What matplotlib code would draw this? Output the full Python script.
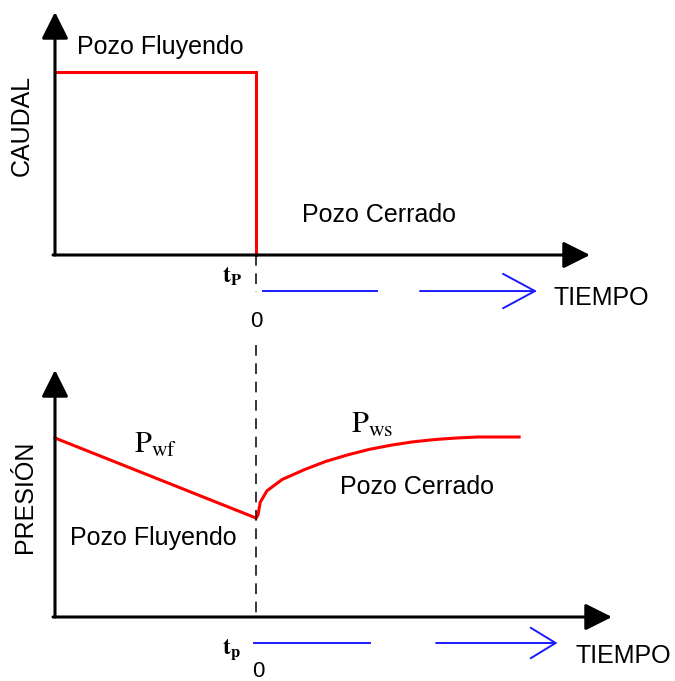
import numpy as np
import matplotlib
matplotlib.use("Agg")
import matplotlib.pyplot as plt

plt.rcParams['font.family'] = ['Liberation Sans', 'DejaVu Sans']
plt.rcParams['mathtext.fontset'] = 'stix'

# production time (tp) and flowing rate
tp = 10.0
q_flow = 100.0
rate_t = [0, tp, tp]
rate_q = [q_flow, q_flow, 0]

# flowing pressure (drawdown) and shut-in pressure (buildup)
pwf_t = [0, tp]
pwf_p = [1790, 990]
dt_ws = [0.0, 0.1, 0.21, 0.54, 1.30, 2.40, 3.46, 4.54, 5.63, 6.71, 7.79, 8.87, 9.96, 11.04, 13.09]
pws_p = [990, 1020, 1147, 1261, 1375, 1473, 1555, 1620, 1676, 1718, 1751, 1774, 1790, 1800, 1800]

fig = plt.figure(figsize=(6.75, 6.81), dpi=100)

# top panel: rate
ax1 = fig.add_axes([55/675, (681-255)/681, 535/675, 243/681])
ax1.set_xlim(0, 535/20.1)
ax1.set_ylim(0, 243/1.83)
ax1.axis('off')

# bottom panel: pressure
ax2 = fig.add_axes([55/675, (681-617)/681, 557/675, 247/681])
ax2.set_xlim(0, 557/20.1)
ax2.set_ylim(0, 2470)
ax2.axis('off')

def axis_arrows(ax):
    x0, x1 = ax.get_xlim()
    y0, y1 = ax.get_ylim()
    style = dict(arrowstyle='-|>', lw=2.2, color='black', mutation_scale=41,
                 shrinkA=0, shrinkB=0)
    ax.annotate('', xy=(x1, 0), xytext=(-0.1, 0), arrowprops=style, annotation_clip=False)
    ax.annotate('', xy=(0, y1), xytext=(0, 0), arrowprops=style, annotation_clip=False)

axis_arrows(ax1)
axis_arrows(ax2)

# rate history
ax1.plot(rate_t, rate_q, color='#ff0000', lw=2.2, clip_on=False, solid_joinstyle='miter')

# pressure history
ax2.plot(pwf_t, pwf_p, color='#ff0000', lw=2.2, clip_on=False)
ax2.plot(tp + np.array(dt_ws), pws_p, color='#ff0000', lw=2.2, clip_on=False,
         solid_joinstyle='round')

# dashed line at tp
dash = dict(color='black', lw=1.1, linestyle=(0, (7, 5)), clip_on=False)
ax1.plot([tp, tp], [0, -20.2], **dash)
ax2.plot([tp, tp], [2720, 0], **dash)

# shut-in time arrows (delta t starts at 0)
blue = dict(color='#1a1aff', lw=1.4)
ax1.plot([10.35, 16.0], [-19.7, -19.7], clip_on=False, **blue)
ax1.annotate('', xy=(23.98, -19.7), xytext=(18.16, -19.7), annotation_clip=False,
             arrowprops=dict(arrowstyle='->,head_length=1.15,head_width=0.62',
                             mutation_scale=20, shrinkA=0, shrinkB=0, **blue))
ax2.plot([9.9, 15.67], [-260, -260], clip_on=False, **blue)
ax2.annotate('', xy=(25.0, -260), xytext=(18.96, -260), annotation_clip=False,
             arrowprops=dict(arrowstyle='->,head_length=0.9,head_width=0.55',
                             mutation_scale=20, shrinkA=0, shrinkB=0, **blue))

# labels top
ax1.text(-1.64, 71, 'CAUDAL', rotation=90, fontsize=18, ha='center', va='center', clip_on=False)
ax1.text(1.1, 113.7, 'Pozo Fluyendo', fontsize=18, ha='left', va='center')
ax1.text(12.3, 21.9, 'Pozo Cerrado', fontsize=18, ha='left', va='center')
ax1.text(8.8, -12, r'$\mathbf{t}_{\mathbf{P}}$', fontsize=17, ha='center', va='center')
ax1.text(10.0, -36.6, '0', fontsize=16, ha='center', va='center')
ax1.text(24.8, -23.5, 'TIEMPO', fontsize=18, ha='left', va='center')

# labels bottom
ax2.text(-1.5, 1200, 'PRESIÓN', rotation=90, fontsize=18, ha='center', va='center')
ax2.text(4.98, 1720, r'$\mathrm{P}_{\mathrm{wf}}$', fontsize=22, ha='center', va='center')
ax2.text(15.8, 1920, r'$\mathrm{P}_{\mathrm{ws}}$', fontsize=22, ha='center', va='center')
ax2.text(14.2, 1300, 'Pozo Cerrado', fontsize=18, ha='left', va='center')
ax2.text(0.75, 790, 'Pozo Fluyendo', fontsize=18, ha='left', va='center')
ax2.text(8.8, -330, r'$\mathbf{t}_{\mathbf{p}}$', fontsize=17, ha='center', va='center')
ax2.text(10.1, -545, '0', fontsize=16, ha='center', va='center')
ax2.text(25.9, -390, 'TIEMPO', fontsize=18, ha='left', va='center')

fig.savefig('out.png', dpi=100, facecolor='white')
